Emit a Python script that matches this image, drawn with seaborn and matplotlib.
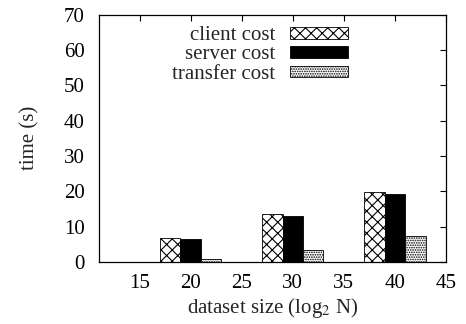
import numpy as np
import pandas as pd
import seaborn as sns
import matplotlib
matplotlib.use("Agg")
import matplotlib.pyplot as plt

# values
sizes = [10, 20, 30, 40]
client_cost = [0.1, 6.7, 13.5, 19.9]
server_cost = [0.1, 6.5, 12.9, 19.2]
transfer_cost = [0.05, 0.9, 3.3, 7.3]
series = ["client cost", "server cost", "transfer cost"]

df = pd.DataFrame({
    "size": sizes * 3,
    "time": client_cost + server_cost + transfer_cost,
    "kind": [s for s in series for _ in sizes],
})

sns.set_style("white")
plt.rcParams["font.family"] = ["Liberation Serif", "DejaVu Serif"]
plt.rcParams["mathtext.fontset"] = "stix"
plt.rcParams["hatch.linewidth"] = 0.8

fig = plt.figure(figsize=(4.66, 3.24), dpi=100)
ax = fig.add_axes([0.212, 0.192, 0.745, 0.762])

sns.barplot(data=df, x="size", y="time", hue="kind", native_scale=True,
            width=0.6, dodge=True, legend=False, ax=ax,
            palette=["white", "black", "white"], edgecolor="black",
            linewidth=0.6, saturation=1)

hatches = ["xxx", "", "......."]
for cont, h in zip(ax.containers, hatches):
    for p in cont:
        p.set_hatch(h)
        p.set_edgecolor("black")

ax.set_xlim(11, 45)
ax.set_ylim(0, 70)
ax.set_xticks([15, 20, 25, 30, 35, 40, 45])
ax.set_yticks(range(0, 71, 10))
ax.tick_params(direction="in", length=4, width=0.8, top=True, right=True,
               labelsize=15, colors="black")
ax.tick_params(axis="y", pad=10)
ax.tick_params(axis="x", pad=9)
for s in ax.spines.values():
    s.set_color("black")
    s.set_linewidth(0.9)

ax.set_xlabel(r"dataset size (log$_2$ N)", fontsize=15, labelpad=2)
ax.set_ylabel("time (s)", fontsize=15, labelpad=18)

ax.legend(ax.containers, series, loc="upper right", bbox_to_anchor=(0.718, 0.955),
          frameon=False, markerfirst=False, fontsize=15, handlelength=2.8,
          handleheight=0.5, labelspacing=0.02, handletextpad=0.7,
          borderpad=0, borderaxespad=0)

plt.savefig("out.png", dpi=100)
